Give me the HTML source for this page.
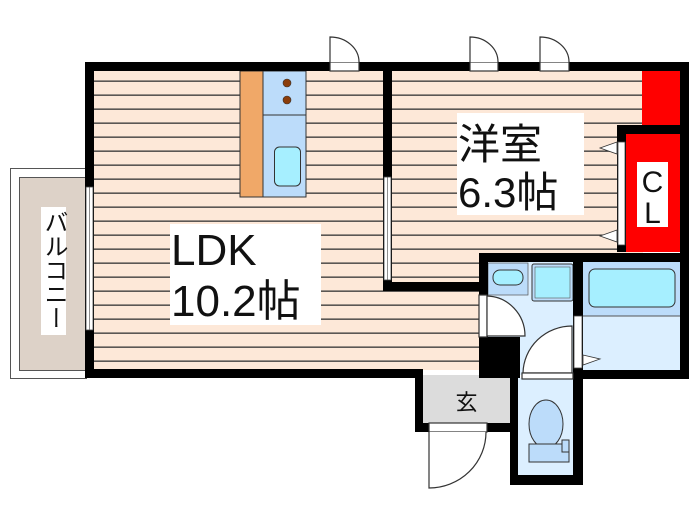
<!DOCTYPE html>
<html><head><meta charset="utf-8"><style>
html,body{margin:0;padding:0;background:#fff;}
svg{display:block;}
text{font-family:"Liberation Sans","Noto Sans CJK JP",sans-serif;}
.cl{font-size:30px;}
.big{font-size:44px;}
.mid{font-size:42px;}
.bal{font-size:24px;}
</style></head><body>
<svg width="700" height="525" viewBox="0 0 700 525" xmlns="http://www.w3.org/2000/svg">
<defs>
<pattern id="fl" x="0" y="66.5" width="10" height="14" patternUnits="userSpaceOnUse">
<rect width="10" height="14" fill="#fde8d8"/>
<rect y="0" width="10" height="1.3" fill="#333"/>
</pattern>
</defs>
<rect x="10.5" y="168.5" width="76" height="210" fill="#fff" stroke="#555"/>
<rect x="19.5" y="177.5" width="66" height="193" fill="#ddd2c8" stroke="#555"/>
<rect x="41" y="207" width="25" height="128" fill="#fff"/>
<text class="bal" x="53.5" y="210" style="writing-mode:vertical-rl;font-size:24px" fill="#111">バルコニー</text>
<rect x="94" y="71" width="289" height="299" fill="url(#fl)"/>
<rect x="383" y="291" width="96" height="79" fill="url(#fl)"/>
<rect x="392" y="71" width="251" height="182" fill="url(#fl)"/>
<rect x="392" y="253" width="87" height="30" fill="url(#fl)"/>
<rect x="240" y="71" width="23" height="126" fill="#f0a868" stroke="#333"/>
<rect x="263" y="71" width="43" height="126" fill="#bcdcfa" stroke="#333"/>
<line x1="263" y1="115" x2="306" y2="115" stroke="#333"/>
<circle cx="287" cy="83" r="4" fill="#8b3d0a" stroke="#333" stroke-width=".6"/>
<circle cx="287" cy="100" r="4" fill="#8b3d0a" stroke="#333" stroke-width=".6"/>
<rect x="274.5" y="147" width="26" height="39" rx="5" fill="#a6efff" stroke="#333"/>
<rect x="170" y="224" width="151" height="101" fill="#fff"/>
<text class="big" x="171" y="265" fill="#111">LDK</text>
<text class="big" x="171" y="316" fill="#111">10.2帖</text>
<rect x="457" y="113" width="127" height="102" fill="#fff"/>
<text class="mid" x="458" y="159" fill="#111">洋室</text>
<text class="mid" x="458" y="207" fill="#111">6.3帖</text>
<rect x="642" y="71" width="38" height="54" fill="#f00"/>
<rect x="626" y="134" width="54" height="118" fill="#f00"/>
<rect x="637" y="162" width="31" height="65" fill="#fff"/>
<text class="cl" x="652.5" y="192" text-anchor="middle" fill="#111" style="font-size:30px">C</text>
<text class="cl" x="652.5" y="223" text-anchor="middle" fill="#111" style="font-size:30px">L</text>
<rect x="487" y="262" width="88" height="113" fill="#dcefff"/>
<rect x="488" y="263" width="40" height="32" fill="#bcdcfa" stroke="#555" stroke-width=".7"/>
<rect x="493" y="270" width="30" height="15" rx="7" fill="#a6efff" stroke="#333"/>
<rect x="532" y="264" width="41" height="37" rx="2" fill="#bcdcfa" stroke="#333"/>
<rect x="535" y="267" width="35" height="31" fill="#a6efff" stroke="#555" stroke-width=".6"/>
<rect x="583" y="262" width="97" height="113" fill="#dcefff"/>
<rect x="583" y="262" width="97" height="54" fill="#bcdcfa"/>
<line x1="583" y1="316" x2="680" y2="316" stroke="#555"/>
<rect x="589" y="269" width="86" height="38" rx="6" fill="#a6efff" stroke="#333"/>
<rect x="518" y="378" width="57" height="97" fill="#dcefff"/>
<ellipse cx="546" cy="424" rx="17" ry="24" fill="#bcdcfa" stroke="#333"/>
<rect x="529" y="444" width="40" height="18" fill="#bcdcfa" stroke="#333"/>
<rect x="562" y="440" width="7" height="12" fill="#bcdcfa" stroke="#333"/>
<rect x="423" y="375" width="87" height="48" fill="#dcdcdc"/>
<text x="466.5" y="410" text-anchor="middle" fill="#111" style="font-size:22px">玄</text>
<g fill="#000">
<rect x="85" y="62" width="604" height="9"/>
<rect x="85" y="62" width="9" height="316"/>
<rect x="680" y="62" width="9" height="317"/>
<rect x="85" y="369" width="338" height="9"/>
<rect x="383" y="62" width="9" height="229"/>
<rect x="383" y="282" width="105" height="9"/>
<rect x="479" y="253" width="210" height="9"/>
<rect x="617" y="125" width="72" height="9"/>
<rect x="617" y="125" width="9" height="127"/>
<rect x="479" y="253" width="9" height="125"/>
<rect x="479" y="337" width="41" height="41"/>
<rect x="573" y="253" width="10" height="126"/>
<rect x="573" y="370" width="116" height="9"/>
<rect x="415" y="369" width="8" height="63"/>
<rect x="415" y="423" width="14" height="9"/>
<rect x="487" y="423" width="31" height="9"/>
<rect x="510" y="370" width="8" height="115"/>
<rect x="573" y="370" width="10" height="115"/>
<rect x="510" y="475" width="73" height="10"/>
</g>
<g fill="#fff" stroke="#444" stroke-width=".8">
<rect x="86" y="187" width="7" height="143"/>
<rect x="384" y="177" width="7" height="103"/>
<rect x="618" y="142" width="7" height="103"/>
<rect x="574" y="316" width="8" height="52"/>
</g>
<line x1="89.5" y1="187" x2="89.5" y2="330" stroke="#444" stroke-width=".6"/>
<line x1="387.5" y1="177" x2="387.5" y2="280" stroke="#444" stroke-width=".6"/>
<polygon points="617,142 600,148 617,154" fill="#fff" stroke="#333" stroke-width=".8"/>
<polygon points="617,230 600,236 617,242" fill="#fff" stroke="#333" stroke-width=".8"/>
<polygon points="583,355 600,359 583,365" fill="#fff" stroke="#333" stroke-width=".8"/>
<g fill="#fff" stroke="#333" stroke-width="1.2">
<rect x="330" y="62" width="29" height="9"/>
<path d="M330,62 V37 A29,25 0 0 1 359,62"/>
<rect x="470" y="62" width="28" height="9"/>
<path d="M470,62 V37 A28,25 0 0 1 498,62"/>
<rect x="540" y="62" width="29" height="9"/>
<path d="M540,62 V37 A29,25 0 0 1 569,62"/>
<rect x="479" y="295" width="8" height="42"/>
<path d="M487,296 A39,40 0 0 1 525,336 H487 Z"/>
<path d="M572,326 V373 H523 A49,48 0 0 1 572,326 Z"/>
<rect x="522" y="373" width="51" height="6"/>
<rect x="429" y="423" width="58" height="9"/>
<path d="M429,432 V488 A57,56 0 0 0 486,432"/>
</g>
</svg>
</body></html>
